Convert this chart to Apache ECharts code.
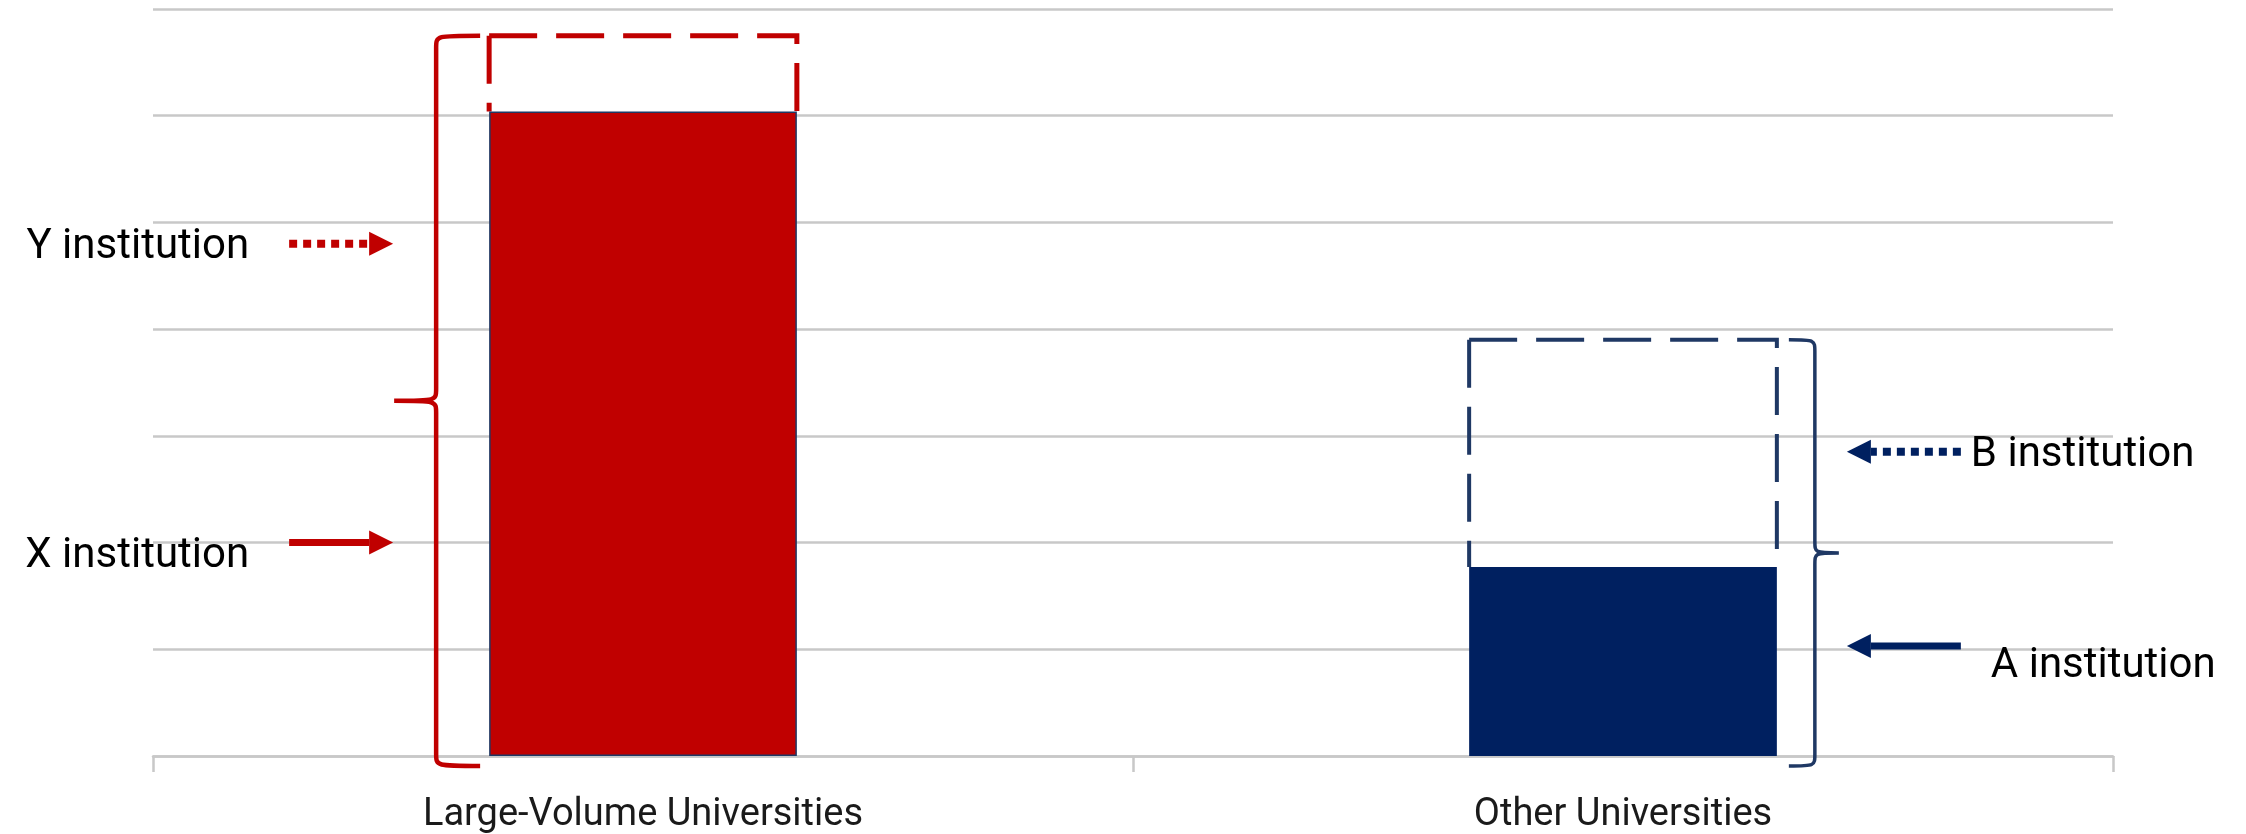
<!DOCTYPE html>
<html>
<head>
<meta charset="utf-8">
<script src="https://cdn.jsdelivr.net/npm/echarts@6/dist/echarts.min.js"></script>
<style>
  html, body { margin: 0; padding: 0; background: #ffffff; }
  #chart { width: 2246px; height: 834px; }
</style>
</head>
<body>
<div id="chart"></div>
<script>
// values (y axis 0..7, no tick labels shown)
const categories = ['Large-Volume Universities', 'Other Universities'];
const solidValues = [6.04, 1.77];
const outlineTops = [6.75, 3.9];
const yTicks = [0, 1, 2, 3, 4, 5, 6, 7];

const arrowLabels = ['Y institution', 'X institution', 'B institution', 'A institution'];
const arrowCategories = [0, 0, 1, 1];
const arrowLevels = [4.8, 2.0, 2.85, 1.03];

// styles
const barColors = ['#C00000', '#002060'];
const outlineColors = ['#C00000', '#1F3864'];
const arrowLineTypes = ['dotted', 'solid', 'dotted', 'solid'];
const labelNudge = [[0, 4], [0, 14], [0, 4], [20, 20]];
const labelFont = 'Roboto';
const gridColor = '#c8c8c8';
const barRatio = 0.314;

const chart = echarts.init(document.getElementById('chart'));

function barHalf(api) {
  return api.size([1, 0])[0] * barRatio / 2;
}

// dashed box drawn above each bar (top and sides only)
function renderOutline(params, api) {
  const i = api.value(0);
  const low = api.coord([i, api.value(1)]);
  const high = api.coord([i, api.value(2)]);
  const half = barHalf(api);
  const l = high[0] - half, r = high[0] + half;
  const style = {
    stroke: outlineColors[i],
    lineWidth: i === 0 ? 5 : 4,
    lineDash: [48, 19],
    fill: 'none'
  };
  return {
    type: 'group',
    children: [
      { type: 'polyline', shape: { points: [[l, high[1]], [r, high[1]], [r, low[1]]] }, style: style },
      { type: 'line', shape: { x1: l, y1: high[1], x2: l, y2: low[1] }, style: style }
    ]
  };
}

function renderBrace(params, api) {
  const i = api.value(0);
  const top = api.coord([i, api.value(2)]);
  const bot = api.coord([i, api.value(1)]);
  const half = barHalf(api);
  const side = i === 0 ? -1 : 1;
  const offset = i === 0 ? 53 : 38;
  const hook = i === 0 ? 44 : 26;
  const cusp = i === 0 ? 42 : 24;
  const x = top[0] + side * (half + offset);
  const yTop = top[1];
  const yBot = bot[1] + 10;
  const mid = (yTop + yBot) / 2;
  const hx = x - side * hook;
  const px = x + side * cusp;
  const r = 12;
  const d = 'M' + hx + ' ' + yTop +
    ' C' + x + ' ' + yTop + ' ' + x + ' ' + yTop + ' ' + x + ' ' + (yTop + r) +
    ' L' + x + ' ' + (mid - r) +
    ' C' + x + ' ' + mid + ' ' + x + ' ' + mid + ' ' + px + ' ' + mid +
    ' C' + x + ' ' + mid + ' ' + x + ' ' + mid + ' ' + x + ' ' + (mid + r) +
    ' L' + x + ' ' + (yBot - r) +
    ' C' + x + ' ' + yBot + ' ' + x + ' ' + yBot + ' ' + hx + ' ' + yBot;
  return {
    type: 'path',
    shape: { pathData: d },
    style: { stroke: outlineColors[i], lineWidth: i === 0 ? 4.5 : 3.5, fill: 'none' }
  };
}

function renderArrow(params, api) {
  const k = params.dataIndex;
  const i = api.value(0);
  const p = api.coord([i, api.value(1)]);
  const half = barHalf(api);
  const color = barColors[i];
  const y = p[1];
  let tip, tail, dir;
  if (i === 0) {
    tip = p[0] - half - 96; tail = tip - 104; dir = 1;
  } else {
    tip = p[0] + half + 70; tail = tip + 114; dir = -1;
  }
  const headLen = 24;
  const base = tip - dir * headLen;
  const dotted = arrowLineTypes[k] === 'dotted';
  const nudge = labelNudge[k];
  return {
    type: 'group',
    children: [
      {
        type: 'line',
        shape: { x1: tail, y1: y, x2: base, y2: y },
        style: {
          stroke: color,
          lineWidth: dotted ? 8 : 7,
          lineDash: dotted ? [8, 6] : null
        }
      },
      {
        type: 'polygon',
        shape: { points: [[tip, y], [base, y - 12], [base, y + 12]] },
        style: { fill: color }
      },
      {
        type: 'text',
        style: {
          text: arrowLabels[k],
          x: (i === 0 ? tail - 40 : tail + 10) + nudge[0],
          y: y + nudge[1],
          align: i === 0 ? 'right' : 'left',
          verticalAlign: 'middle',
          fill: '#000000',
          font: '42px ' + labelFont
        }
      }
    ]
  };
}

const option = {
  animation: false,
  grid: { left: 153, right: 133, top: 9, bottom: 75 },
  xAxis: {
    type: 'category',
    data: categories,
    axisLine: { lineStyle: { color: gridColor, width: 2.5 } },
    axisTick: { show: true, length: 16, lineStyle: { color: gridColor, width: 2.5 } },
    axisLabel: { margin: 40, fontSize: 38, fontFamily: labelFont, color: '#1a1a1a' }
  },
  yAxis: {
    type: 'value',
    min: yTicks[0],
    max: yTicks[yTicks.length - 1],
    interval: yTicks[1] - yTicks[0],
    axisLabel: { show: false },
    axisLine: { show: false },
    axisTick: { show: false },
    splitLine: { lineStyle: { color: gridColor, width: 2.5 } }
  },
  series: [
    {
      name: 'institution',
      type: 'bar',
      barWidth: (barRatio * 100) + '%',
      z: 3,
      data: solidValues.map((v, i) => ({
        value: v,
        itemStyle: { color: barColors[i], borderColor: '#1F3864', borderWidth: i === 0 ? 1.5 : 0 }
      }))
    },
    {
      name: 'outline',
      type: 'custom',
      z: 2,
      renderItem: renderOutline,
      data: categories.map((c, i) => [i, solidValues[i], outlineTops[i]])
    },
    {
      name: 'braces',
      type: 'custom',
      z: 4,
      renderItem: renderBrace,
      data: categories.map((c, i) => [i, yTicks[0], outlineTops[i]])
    },
    {
      name: 'arrows',
      type: 'custom',
      z: 4,
      renderItem: renderArrow,
      data: arrowLevels.map((v, k) => [arrowCategories[k], v])
    }
  ]
};

chart.setOption(option);
</script>
</body>
</html>
